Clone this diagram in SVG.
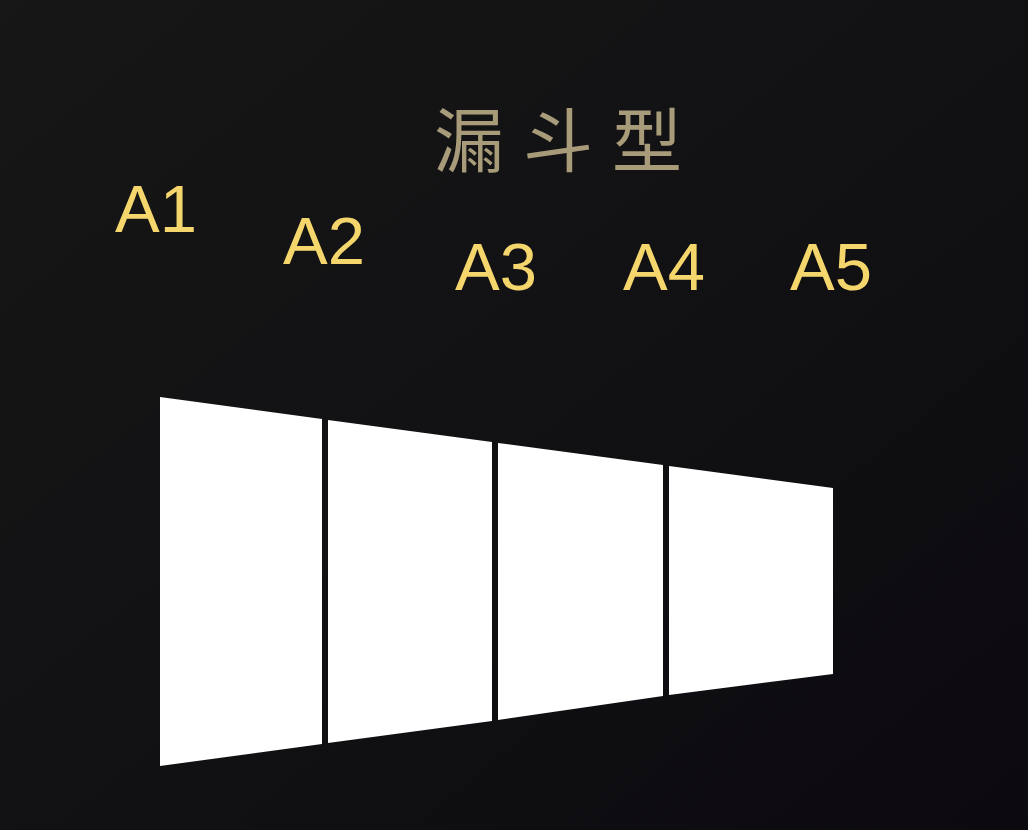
<svg xmlns="http://www.w3.org/2000/svg" width="1028" height="830" viewBox="0 0 1028 830">
  <defs>
    <linearGradient id="bg" x1="0" y1="0" x2="1" y2="1">
      <stop offset="0" stop-color="#171717"/>
      <stop offset="1" stop-color="#0c0a0f"/>
    </linearGradient>
    <style>
      .title { font-family: "Noto Sans CJK SC", "Noto Sans", sans-serif; font-size: 70px; fill: #a89b79; letter-spacing: 19px; }
      .lbl { font-family: "Liberation Sans", Arial, sans-serif; font-size: 67px; fill: #f4d66c; }
      .panel { fill: #ffffff; }
    </style>
  </defs>
  <rect width="1028" height="830" fill="url(#bg)"/>
  <g id="title">
    <text class="title" x="434" y="167">漏斗型</text>
  </g>
  <g id="labels">
    <text id="A1" class="lbl" x="115" y="232">A1</text>
    <text id="A2" class="lbl" x="283" y="264">A2</text>
    <text id="A3" class="lbl" x="455" y="290">A3</text>
    <text id="A4" class="lbl" x="623" y="290">A4</text>
    <text id="A5" class="lbl" x="790" y="290">A5</text>
  </g>
  <g id="funnel">
    <polygon id="panel1" class="panel" points="160,397 322,419 322,744 160,766"/>
    <polygon id="panel2" class="panel" points="328,420 492,442 492,721 328,743"/>
    <polygon id="panel3" class="panel" points="498,443 663,465 663,696 498,720"/>
    <polygon id="panel4" class="panel" points="669,466 833,488 833,674 669,695"/>
  </g>
  <g id="connectors"/>
</svg>
